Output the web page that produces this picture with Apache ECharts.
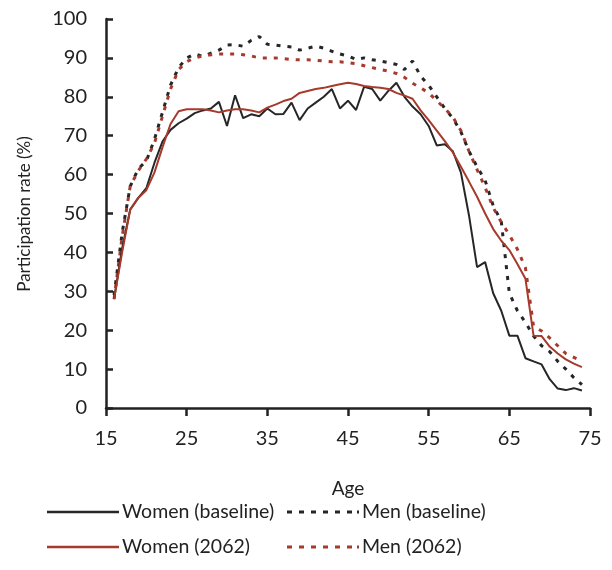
<!DOCTYPE html>
<html lang="en">
<head>
    <meta charset="UTF-8">
    <title>Participation rate by age</title>
    <script src="https://cdn.jsdelivr.net/npm/echarts@6/dist/echarts.min.js"></script>
    <style>
        * { margin: 0; padding: 0; }
        #chart { width: 612px; height: 570px; background: #fff; }
    </style>
</head>
<body>
    <div id="chart"></div>
    <script type="text/javascript">
        // ages on the x axis
        var ages = [16, 17, 18, 19, 20, 21, 22, 23, 24, 25, 26, 27, 28, 29, 30,
            31, 32, 33, 34, 35, 36, 37, 38, 39, 40, 41, 42, 43, 44, 45,
            46, 47, 48, 49, 50, 51, 52, 53, 54, 55, 56, 57, 58, 59, 60,
            61, 62, 63, 64, 65, 66, 67, 68, 69, 70, 71, 72, 73, 74];

        // participation rate (%)
        var womenBaseline = [28, 41, 51, 54, 56.5, 63, 68.5, 71.5, 73.2, 74.4, 75.8, 76.5, 77, 78.7, 72.5,
            80.4, 74.5, 75.5, 75, 77, 75.5, 75.6, 78.5, 74, 77, 78.5, 80, 82, 77, 79,
            76.6, 82.6, 82, 79, 81.5, 83.6, 80, 77.5, 75.5, 72.5, 67.5, 67.8, 66, 60.5, 49.5,
            36.2, 37.5, 29.5, 25, 18.6, 18.6, 12.8, 12, 11.2, 7.4, 5, 4.6, 5.1, 4.5];

        var menBaseline = [29, 45, 57, 61.5, 63.5, 69, 76, 83, 87.5, 90, 91, 90.4, 91.2, 92, 93.3,
            93.4, 93, 94.5, 95.5, 93.5, 93.3, 93, 92.8, 92, 92.5, 93, 92.5, 91.7, 91, 90.5,
            89.6, 90, 89.5, 89.2, 88.8, 88.3, 87, 89.2, 85.3, 83, 80, 77, 74.5, 71, 66,
            62, 58.5, 52, 48, 29.5, 25, 22, 18.5, 16, 14.5, 12, 10, 7.8, 6];

        var women2062 = [28, 40, 51, 54, 56, 60.5, 67, 73, 76.3, 76.8, 76.8, 76.8, 76.5, 76, 76.5,
            76.8, 76.8, 76.5, 76, 77.2, 78, 78.9, 79.5, 81, 81.5, 82, 82.3, 82.8, 83.2, 83.6,
            83.3, 82.8, 82.5, 82.3, 82, 81, 80.3, 79.5, 76.5, 74, 71.3, 68.6, 65.7, 62, 58.2,
            54.3, 50, 46, 43, 40.6, 37, 33.2, 18.6, 18.5, 15.8, 14, 12.5, 11.4, 10.5];

        var men2062 = [28, 44, 57, 61, 64, 68, 75, 82, 87, 89, 90, 90.5, 90.8, 91, 91,
            91, 90.8, 90.5, 90, 90, 90, 89.8, 89.6, 89.5, 89.5, 89.4, 89.2, 89, 89, 88.8,
            88.5, 88, 87.5, 87, 86.6, 86, 85, 83.5, 82.3, 81, 79, 77, 74.8, 71.3, 66,
            61.3, 56.7, 51.5, 47.8, 44.5, 40.8, 36, 21, 19.8, 18, 16, 14, 13, 12];

        var seriesNames = ['Women (baseline)', 'Men (baseline)', 'Women (2062)', 'Men (2062)'];
        var yTitle = 'Participation rate (%)';

        var black = '#262626';
        var red = '#a63a2c';
        var font = 'Lato, "Open Sans", sans-serif';

        // legend icons: a plain bar, and a row of short dashes ending in a dot
        var solidIcon = 'rect';
        var dashIcon = 'path://M0,0h5v3h-5z M12,0h5v3h-5z M24,0h5v3h-5z M36,0h5v3h-5z M48,0h5v3h-5z M60,0h5v3h-5z M70,0h2v3h-2z';

        function pairs(vals) {
            return ages.map(function (a, i) { return [a, vals[i]]; });
        }

        function line(name, vals, color, type, width) {
            return {
                name: name,
                type: 'line',
                data: pairs(vals),
                symbol: 'none',
                showSymbol: false,
                lineStyle: { color: color, width: width, type: type },
                itemStyle: { color: color },
                z: type === 'solid' ? 3 : 2
            };
        }

        function legendAt(name, icon, left, top) {
            return {
                data: [{ name: name, icon: icon }],
                left: left,
                top: top,
                itemWidth: 72,
                itemHeight: icon === 'rect' ? 2.5 : 3,
                itemGap: 0,
                padding: 0,
                textStyle: { fontFamily: font, fontSize: 19.5, color: '#222', padding: [0, 0, 0, -2] }
            };
        }

        var myChart = echarts.init(document.getElementById('chart'));

        var option = {
            animation: false,
            // y axis title, centred beside the plot
            graphic: [{
                type: 'text',
                x: 25,
                y: 214,
                rotation: Math.PI / 2,
                style: {
                    text: yTitle,
                    fontFamily: font,
                    fontSize: 17,
                    fill: '#222',
                    align: 'center',
                    verticalAlign: 'middle'
                }
            }],
            legend: [
                legendAt(seriesNames[0], solidIcon, 47, 502),
                legendAt(seriesNames[1], dashIcon, 287, 502),
                legendAt(seriesNames[2], solidIcon, 47, 537),
                legendAt(seriesNames[3], dashIcon, 287, 537)
            ],
            grid: { left: 106, right: 22, top: 19, bottom: 162 },
            xAxis: {
                type: 'value',
                min: 15,
                max: 75,
                interval: 10,
                name: 'Age',
                nameLocation: 'middle',
                nameGap: 71,
                nameTextStyle: { fontFamily: font, fontSize: 19, color: '#222' },
                axisLine: { lineStyle: { color: '#222', width: 2.5 } },
                axisTick: { show: true, inside: false, length: 8, lineStyle: { color: '#222', width: 2.5 } },
                axisLabel: { fontFamily: font, fontSize: 20, color: '#222', margin: 21 },
                splitLine: { show: false }
            },
            yAxis: {
                type: 'value',
                min: 0,
                max: 100,
                interval: 10,
                axisLine: { show: true, lineStyle: { color: '#222', width: 2.5 } },
                axisTick: { show: true, inside: true, length: 7, lineStyle: { color: '#222', width: 2.5 } },
                axisLabel: { fontFamily: font, fontSize: 20, color: '#222', margin: 19 },
                splitLine: { show: false }
            },
            series: [
                line(seriesNames[0], womenBaseline, black, 'solid', 2),
                line(seriesNames[1], menBaseline, black, [4, 7], 3),
                line(seriesNames[2], women2062, red, 'solid', 2),
                line(seriesNames[3], men2062, red, [4, 7], 3)
            ]
        };

        myChart.setOption(option);
    </script>
</body>
</html>
